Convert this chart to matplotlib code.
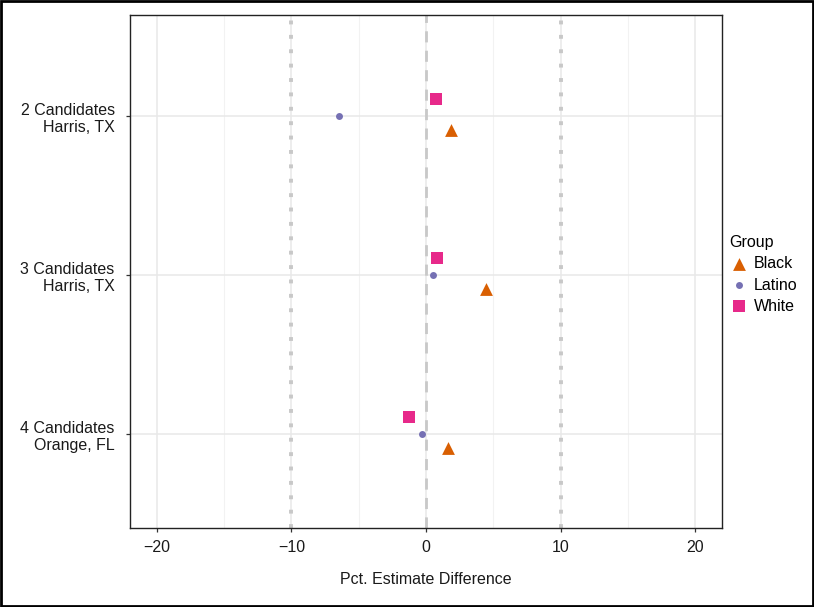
import matplotlib.pyplot as plt
import numpy as np

plt.rcParams['font.family'] = ['Liberation Sans', 'DejaVu Sans']

# data
contests = ["2 Candidates\nHarris, TX", "3 Candidates\nHarris, TX", "4 Candidates\nOrange, FL"]
groups = ["Black", "Latino", "White"]
black = [1.86, 4.46, 1.63]
latino = [-6.47, 0.50, -0.30]
white = [0.77, 0.84, -1.24]
xticks = [-20, -10, 0, 10, 20]

colors = {"Black": "#D95F02", "Latino": "#7570B3", "White": "#E7298A"}
markers = {"Black": "^", "Latino": "o", "White": "s"}
sizes = {"Black": 85, "Latino": 25, "White": 70}
offsets = {"Black": 0.085, "Latino": 0.0, "White": -0.105}
vals = {"Black": black, "Latino": latino, "White": white}

fig = plt.figure(figsize=(8.14, 6.07), dpi=100)
ax = fig.add_axes([130 / 814, 79 / 607, 592 / 814, 513 / 607])

ypos = np.arange(len(contests))

# grid
for x in [-15, -5, 5, 15]:
    ax.axvline(x, color="#f2f2f2", lw=0.8, zorder=0)
for x in xticks:
    ax.axvline(x, color="#e8e8e8", lw=1.1, zorder=0)
for y in ypos:
    ax.axhline(y, color="#e8e8e8", lw=1.1, zorder=0)

ax.axvline(-10, color="#c8c8c8", lw=2.8, ls=(0, (1, 2.7)), zorder=1)
ax.axvline(10, color="#c8c8c8", lw=2.8, ls=(0, (1, 2.7)), zorder=1)
ax.axvline(0, color="#c8c8c8", lw=2.0, ls=(0, (4, 3)), zorder=1)

handles = []
for g in groups:
    h = ax.scatter(vals[g], ypos + offsets[g], marker=markers[g], s=sizes[g],
                   color=colors[g], linewidths=0, zorder=3, label=g)
    handles.append(h)

ax.set_xlim(-22, 22)
ax.set_ylim(2.59, -0.635)
ax.set_xticks(xticks)
ax.set_xticklabels([f"\u2212{-t}" if t < 0 else str(t) for t in xticks])
ax.set_yticks(ypos)
ax.set_yticklabels(contests, ha="right", multialignment="right")
ax.tick_params(labelsize=11.5, colors="#333333", labelcolor="#1a1a1a", length=3, width=0.9)
ax.tick_params(axis="y", pad=8)
ax.tick_params(axis="x", pad=6)
ax.set_xlabel("Pct. Estimate Difference", fontsize=11.5, color="#1a1a1a", labelpad=12)
for s in ax.spines.values():
    s.set_color("#222222")
    s.set_linewidth(1.0)

leg = fig.legend(handles=handles, labels=groups, title="Group", loc="upper left",
                 bbox_to_anchor=(723 / 814, 1 - 229 / 607), frameon=False,
                 fontsize=11.5, title_fontsize=11.5, handletextpad=0.35,
                 labelspacing=0.38, borderaxespad=0, handlelength=1.2)
leg._legend_box.align = "left"

# outer frame
fig.patches.append(plt.Rectangle((0.001, 0.001), 0.998, 0.998, transform=fig.transFigure,
                                 fill=False, edgecolor="black", lw=2))

fig.savefig("out.png", dpi=100)
